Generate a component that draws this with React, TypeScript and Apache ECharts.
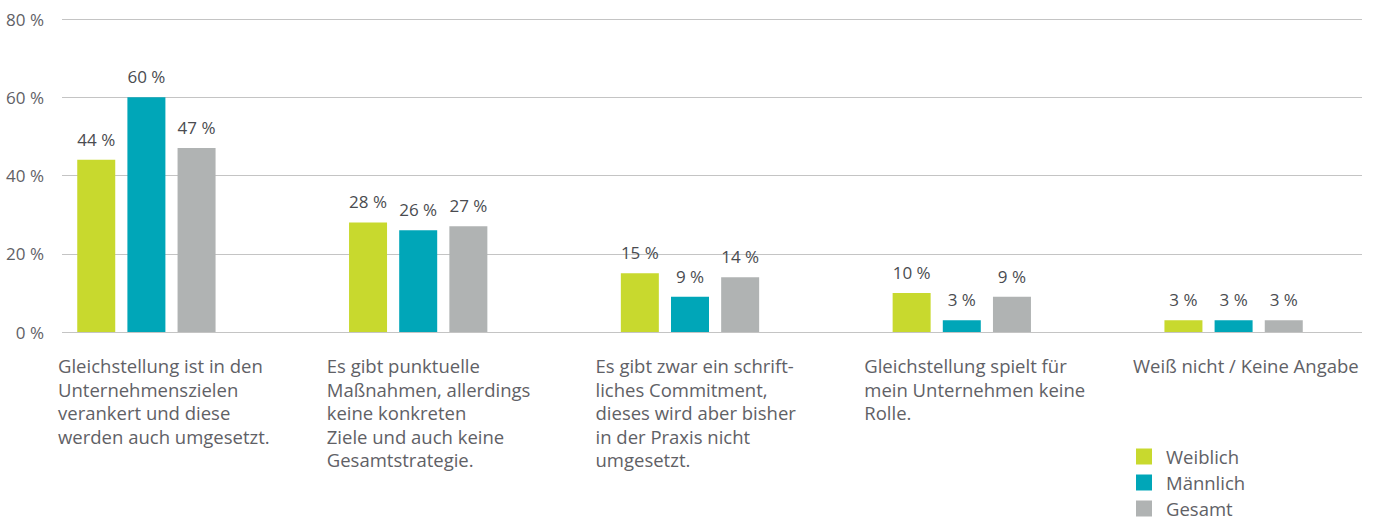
import React, { useEffect, useRef } from "react";
import * as echarts from "echarts";

const categories = [
  "Gleichstellung ist in den\nUnternehmenszielen\nverankert und diese\nwerden auch umgesetzt.",
  "Es gibt punktuelle\nMaßnahmen, allerdings\nkeine konkreten\nZiele und auch keine\nGesamtstrategie.",
  "Es gibt zwar ein schrift-\nliches Commitment,\ndieses wird aber bisher\nin der Praxis nicht\numgesetzt.",
  "Gleichstellung spielt für\nmein Unternehmen keine\nRolle.",
  "Weiß nicht / Keine Angabe",
];
const seriesNames = ["Weiblich", "Männlich", "Gesamt"];
const weiblich = [44, 28, 15, 10, 3];
const maennlich = [60, 26, 9, 3, 3];
const gesamt = [47, 27, 14, 9, 3];
const colors = ["#c8d92e", "#00a6b8", "#b0b3b3"];

const FONT = "'Open Sans', 'Noto Sans', sans-serif";
const TEXT = "#5f6166";

export default function App() {
  const ref = useRef<HTMLDivElement>(null);
  useEffect(() => {
    if (!ref.current) return;
    const chart = echarts.init(ref.current, undefined, { renderer: "svg" });
    const values = [weiblich, maennlich, gesamt];
    chart.setOption({
      animation: false,
      textStyle: { fontFamily: FONT },
      grid: [
        { left: 62, right: 18, top: 19, height: 313 },
        { left: 10.5, width: 1359, top: 19, height: 313 },
        { left: 58, width: 1075, top: 19, height: 313 },
      ],
      legend: {
        orient: "vertical",
        left: 1136,
        top: 447,
        height: 200,
        padding: 0,
        itemWidth: 16,
        itemHeight: 16,
        itemGap: 7,
        icon: "rect",
        data: seriesNames,
        textStyle: {
          fontFamily: FONT,
          fontSize: 18.5,
          lineHeight: 16,
          color: TEXT,
          padding: [0, 0, 0, 9],
        },
      },
      xAxis: [
        { type: "category", gridIndex: 0, data: categories, show: false },
        { type: "category", gridIndex: 1, data: categories, show: false },
        {
          type: "category",
          gridIndex: 2,
          data: categories,
          boundaryGap: false,
          axisLine: { show: false },
          axisTick: { show: false },
          axisLabel: {
            align: "left",
            verticalAlign: "top",
            interval: 0,
            margin: 22,
            fontSize: 18.5,
            lineHeight: 23.5,
            color: TEXT,
            fontFamily: FONT,
          },
        },
      ],
      yAxis: [
        {
          type: "value",
          gridIndex: 0,
          min: 0,
          max: 80,
          interval: 20,
          axisLine: { show: false },
          axisTick: { show: false },
          splitLine: { lineStyle: { color: "#c4c4c4", width: 1.2 } },
          axisLabel: {
            formatter: "{value} %",
            margin: 18,
            fontSize: 17,
            color: TEXT,
            fontFamily: FONT,
          },
        },
        { type: "value", gridIndex: 1, min: 0, max: 80, show: false },
        { type: "value", gridIndex: 2, min: 0, max: 80, show: false },
      ],
      series: seriesNames.map((name, i) => ({
        name,
        type: "bar",
        xAxisIndex: 1,
        yAxisIndex: 1,
        data: values[i],
        barWidth: 38,
        barGap: "32%",
        itemStyle: { color: colors[i] },
        label: {
          show: true,
          position: "top",
          distance: 12,
          formatter: "{c} %",
          fontSize: 17,
          color: "#4a4c50",
          fontFamily: FONT,
        },
      })),
    });
    return () => chart.dispose();
  }, []);
  return (
    <div
      ref={ref}
      style={{ position: "absolute", left: 0, top: 0, width: 1380, height: 522 }}
    />
  );
}
